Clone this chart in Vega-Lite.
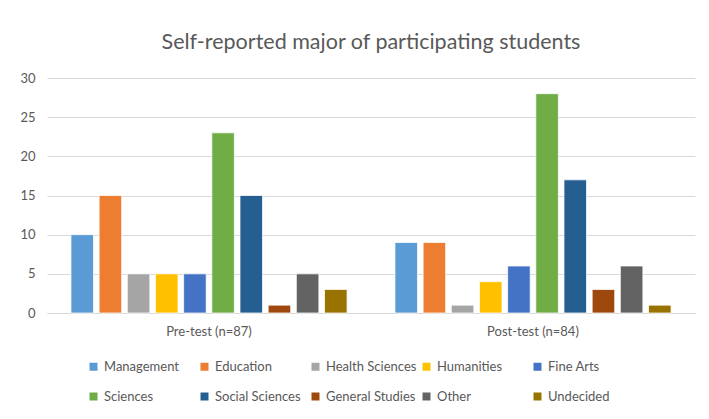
{
  "$schema": "https://vega.github.io/schema/vega-lite/v6.json",
  "autosize": {"type": "none"},
  "width": 648,
  "height": 235,
  "padding": {"left": 47, "top": 78, "right": 14, "bottom": 106},
  "background": "white",
  "title": {
    "text": "Self-reported major of participating students",
    "fontSize": 21.5,
    "font": "Lato",
    "fontWeight": "normal",
    "color": "#595959",
    "offset": 19,
    "anchor": "middle"
  },
  "data": {
    "values": [
      {"test": "Pre-test (n=87)", "major": "Management", "count": 10},
      {"test": "Pre-test (n=87)", "major": "Education", "count": 15},
      {"test": "Pre-test (n=87)", "major": "Health Sciences", "count": 5},
      {"test": "Pre-test (n=87)", "major": "Humanities", "count": 5},
      {"test": "Pre-test (n=87)", "major": "Fine Arts", "count": 5},
      {"test": "Pre-test (n=87)", "major": "Sciences", "count": 23},
      {"test": "Pre-test (n=87)", "major": "Social Sciences", "count": 15},
      {"test": "Pre-test (n=87)", "major": "General Studies", "count": 1},
      {"test": "Pre-test (n=87)", "major": "Other", "count": 5},
      {"test": "Pre-test (n=87)", "major": "Undecided", "count": 3},
      {"test": "Post-test (n=84)", "major": "Management", "count": 9},
      {"test": "Post-test (n=84)", "major": "Education", "count": 9},
      {"test": "Post-test (n=84)", "major": "Health Sciences", "count": 1},
      {"test": "Post-test (n=84)", "major": "Humanities", "count": 4},
      {"test": "Post-test (n=84)", "major": "Fine Arts", "count": 6},
      {"test": "Post-test (n=84)", "major": "Sciences", "count": 28},
      {"test": "Post-test (n=84)", "major": "Social Sciences", "count": 17},
      {"test": "Post-test (n=84)", "major": "General Studies", "count": 3},
      {"test": "Post-test (n=84)", "major": "Other", "count": 6},
      {"test": "Post-test (n=84)", "major": "Undecided", "count": 1}
    ]
  },
  "mark": {"type": "bar", "stroke": "white", "strokeWidth": 0.75},
  "encoding": {
    "x": {
      "field": "test",
      "type": "nominal",
      "sort": ["Pre-test (n=87)", "Post-test (n=84)"],
      "scale": {"paddingInner": 0, "paddingOuter": 0},
      "axis": {
        "title": null,
        "labelAngle": 0,
        "labelFont": "Lato",
        "labelFontSize": 13,
        "labelColor": "#595959",
        "labelPadding": 12,
        "ticks": false,
        "domainColor": "#d9d9d9",
        "domainWidth": 1
      }
    },
    "xOffset": {
      "field": "major",
      "type": "nominal",
      "sort": ["Management", "Education", "Health Sciences", "Humanities", "Fine Arts", "Sciences", "Social Sciences", "General Studies", "Other", "Undecided"],
      "scale": {"paddingInner": 0.2, "paddingOuter": 0.85}
    },
    "y": {
      "field": "count",
      "type": "quantitative",
      "scale": {"domain": [0, 30]},
      "axis": {
        "title": null,
        "values": [0, 5, 10, 15, 20, 25, 30],
        "labelFont": "Lato",
        "labelFontSize": 13,
        "labelColor": "#595959",
        "labelPadding": 12,
        "ticks": false,
        "domain": false,
        "gridColor": "#d9d9d9",
        "gridWidth": 1
      }
    },
    "color": {
      "field": "major",
      "type": "nominal",
      "sort": ["Management", "Education", "Health Sciences", "Humanities", "Fine Arts", "Sciences", "Social Sciences", "General Studies", "Other", "Undecided"],
      "scale": {
        "domain": ["Management", "Education", "Health Sciences", "Humanities", "Fine Arts", "Sciences", "Social Sciences", "General Studies", "Other", "Undecided"],
        "range": ["#5B9BD5", "#ED7D31", "#A5A5A5", "#FFC000", "#4472C4", "#70AD47", "#255E91", "#9E480E", "#636363", "#997300"]
      },
      "legend": {
        "title": null,
        "orient": "none",
        "legendX": 40,
        "legendY": 282,
        "direction": "horizontal",
        "columns": 5,
        "gridAlign": "all",
        "columnPadding": 3,
        "rowPadding": 16,
        "symbolType": "square",
        "symbolSize": 64,
        "symbolStrokeWidth": 0,
        "labelFont": "Lato",
        "labelFontSize": 13,
        "labelColor": "#595959",
        "labelOffset": 4
      }
    }
  },
  "config": {
    "view": {"stroke": null}
  }
}
